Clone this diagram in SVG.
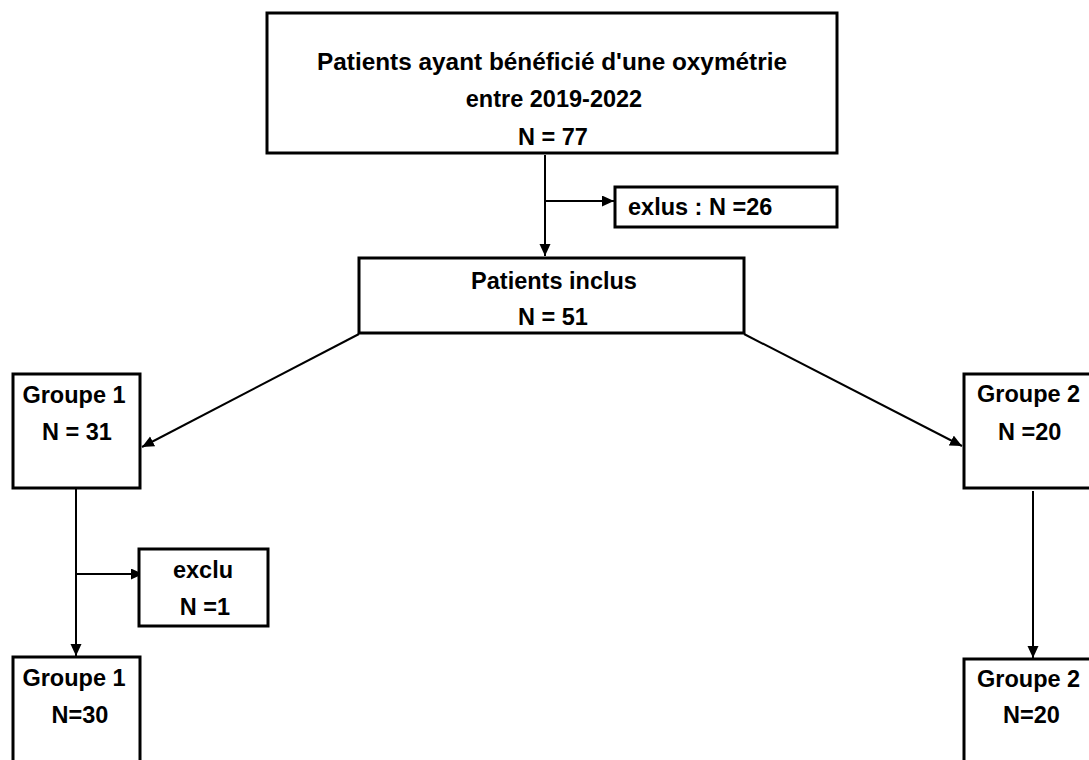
<svg xmlns="http://www.w3.org/2000/svg" width="1089" height="760" viewBox="0 0 1089 760">
<style>
.box{fill:#fff;stroke:#000;stroke-width:3}
.t{font-family:"Liberation Sans",Arial,sans-serif;font-weight:bold;font-size:23.5px;fill:#000}
.c{text-anchor:middle}
.e{stroke:#000;stroke-width:2;fill:none;marker-end:url(#ah)}
</style>
<defs>
<marker id="ah" markerUnits="userSpaceOnUse" markerWidth="13" markerHeight="12" refX="12" refY="5.5" orient="auto">
<path d="M0,0 L12,5.5 L0,11 z" fill="#000"/>
</marker>
</defs>
<rect width="1089" height="760" fill="#fff"/>
<g id="connectors">
<line class="e" x1="545" y1="155" x2="545" y2="256"/>
<line class="e" x1="545" y1="201" x2="614" y2="201"/>
<line class="e" x1="359" y1="334" x2="142" y2="447"/>
<line class="e" x1="744" y1="334" x2="962" y2="446"/>
<line class="e" x1="76" y1="489" x2="76" y2="656"/>
<line class="e" x1="76" y1="574" x2="143" y2="574"/>
<line class="e" x1="1033" y1="491" x2="1033" y2="658"/>
</g>
<g id="n-top">
<rect class="box" x="267" y="13" width="570" height="140"/>
<text class="t c" x="552" y="70" textLength="470" lengthAdjust="spacingAndGlyphs">Patients ayant bénéficié d'une oxymétrie</text>
<text class="t c" x="554" y="107">entre 2019-2022</text>
<text class="t c" x="553" y="145">N = 77</text>
</g>
<g id="n-exlus">
<rect class="box" x="615" y="187" width="222" height="40"/>
<text class="t" x="628" y="215">exlus : N =26</text>
</g>
<g id="n-inclus">
<rect class="box" x="359" y="258" width="385" height="75"/>
<text class="t c" x="554" y="289">Patients inclus</text>
<text class="t c" x="553" y="325">N = 51</text>
</g>
<g id="n-g1">
<rect class="box" x="13" y="374" width="127" height="114"/>
<text class="t c" x="74" y="403">Groupe 1</text>
<text class="t c" x="77" y="440">N = 31</text>
</g>
<g id="n-exclu">
<rect class="box" x="139" y="549" width="129" height="77"/>
<text class="t c" x="203" y="578">exclu</text>
<text class="t c" x="205" y="615">N =1</text>
</g>
<g id="n-g1b">
<rect class="box" x="13" y="657" width="127" height="120"/>
<text class="t c" x="74" y="686">Groupe 1</text>
<text class="t c" x="80" y="723">N=30</text>
</g>
<g id="n-g2">
<rect class="box" x="964" y="374" width="140" height="114"/>
<text class="t" x="977" y="402">Groupe 2</text>
<text class="t" x="998" y="440">N =20</text>
</g>
<g id="n-g2b">
<rect class="box" x="964" y="659" width="140" height="120"/>
<text class="t" x="977" y="687">Groupe 2</text>
<text class="t" x="1003" y="723">N=20</text>
</g>
</svg>
